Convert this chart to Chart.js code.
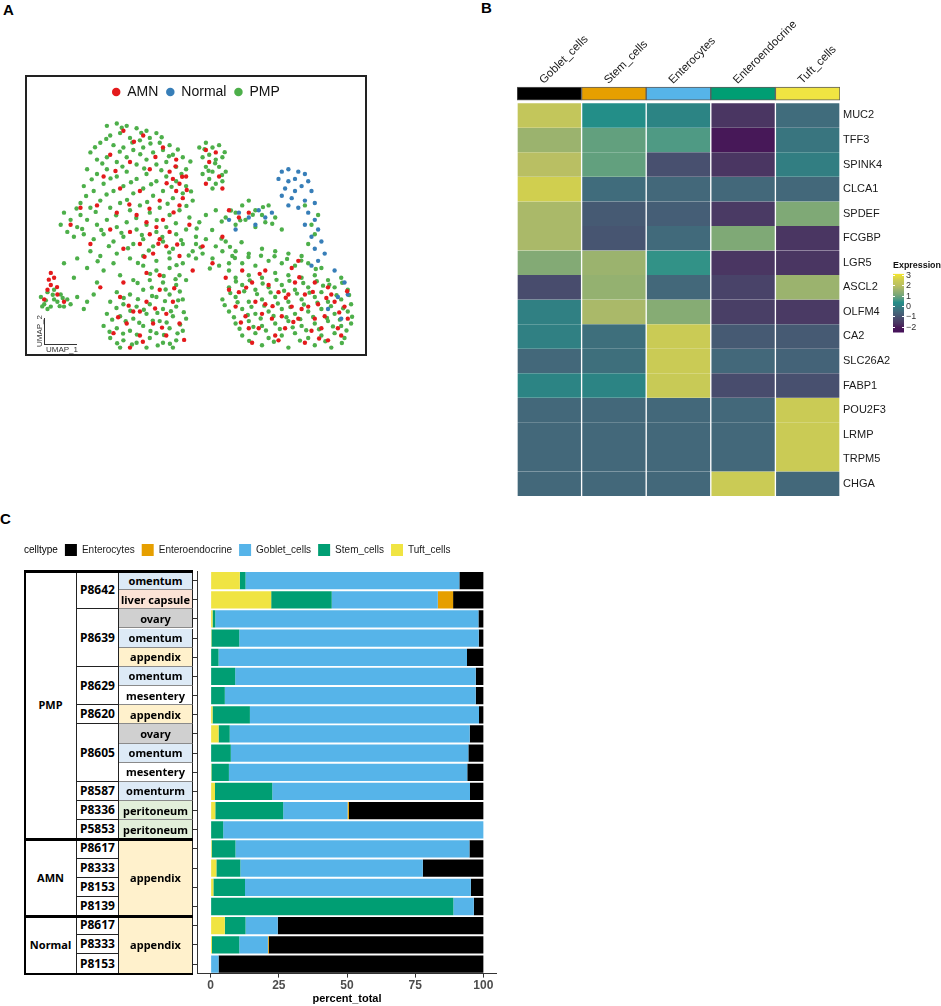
<!DOCTYPE html>
<html>
<head>
<meta charset="utf-8">
<script src="https://cdn.jsdelivr.net/npm/chart.js@4.4.1/dist/chart.umd.min.js"></script>
<style>
  html, body { margin: 0; padding: 0; background: #fff; }
  body { width: 941px; height: 1006px; position: relative; overflow: hidden; font-family: "Liberation Sans", Arial, sans-serif; }
  .tag { position: absolute; font: bold 15px/1 "Liberation Sans", Arial, sans-serif; color: #000; }
  .wrap { position: absolute; }
  #umapBox { position: absolute; left: 25px; top: 75px; width: 342px; height: 281px; border: 2px solid #222; box-sizing: border-box; }
  #umapAxes { position: absolute; left: 44px; top: 318px; width: 32px; height: 26px; border-left: 1px solid #333; border-bottom: 1px solid #333; }
  .umapLab { position: absolute; font-size: 8px; line-height: 1; color: #333; white-space: nowrap; }
  .cell { position: absolute; box-sizing: border-box; border-right: 1px solid #222; border-bottom: 1px solid #222;
          display: flex; align-items: center; justify-content: center; font-family: "Noto Sans", sans-serif;
          font-weight: 700; color: #000; white-space: nowrap; line-height: 1; }
  .rule { position: absolute; background: #000; }
</style>
</head>
<body>
<div class="tag" style="left:3px;top:2px">A</div>
<div class="tag" style="left:481px;top:0px">B</div>
<div class="tag" style="left:0px;top:511px">C</div>

<div id="umapBox"><div class="wrap" style="left:0;top:0;width:338px;height:277px"><canvas id="umapChart"></canvas></div></div>
<div id="umapAxes"></div>
<div class="umapLab" style="left:24px;top:327px;transform:rotate(-90deg)">UMAP_2</div>
<div class="umapLab" style="left:46px;top:346px">UMAP_1</div>

<div class="wrap" style="left:480px;top:0;width:461px;height:510px"><canvas id="heatChart"></canvas></div>
<div class="wrap" style="left:885px;top:258px;width:56px;height:82px"><canvas id="exprBar"></canvas></div>

<div class="wrap" style="left:0;top:537px;width:497px;height:470px"><canvas id="pctChart"></canvas></div>
<div id="tableLayer"></div>

<script>
Chart.defaults.font.family = '"Liberation Sans", Arial, sans-serif';

// ---------- A: UMAP embedding (0-100 units) ----------
const umapPMP = [
  [23,93],[26,94],[29,93],[32,92],[35,91],[38,90],[24,89],[27,90],[30,88],[33,87],[36,88],[39,86],[42,85],[21,86],
  [25,85],[28,84],[31,83],[34,84],[37,82],[40,83],[43,81],[46,80],[18,82],[20,79],[23,80],[26,78],[29,80],[32,77],
  [35,79],[38,77],[41,78],[44,76],[47,75],[17,75],[20,73],[23,75],[26,72],[29,74],[32,71],[35,73],[38,70],[41,72],
  [44,70],[47,68],[16,68],[19,66],[22,69],[25,66],[28,68],[31,65],[34,67],[37,64],[40,66],[43,63],[46,65],[49,62],
  [15,61],[18,59],[21,62],[24,59],[27,61],[30,58],[33,60],[36,57],[39,59],[42,56],[45,58],[48,55],[51,53],
  [10,57],[12,54],[14,51],[11,49],[13,47],[15,56],[9,52],[16,48],
  [17,54],[20,52],[23,54],[26,51],[29,53],[32,50],[35,52],[38,49],[41,51],[44,48],[47,50],[50,47],[19,46],[22,48],
  [25,45],[28,47],[31,44],[34,46],[37,43],[40,45],[43,42],[46,44],[49,41],[18,41],[21,39],[26,40],[30,38],[34,39],
  [38,37],[42,38],[46,36],[50,38],
  [27.5,92.2],[33.4,90.1],[39.6,88.3],[22.8,87.6],[30.7,86.1],[36.2,85.7],[44.5,83.2],[19.4,84.1],[26.9,82.3],
  [33.1,81.2],[41.8,80.4],[48.3,78.2],[21.6,77.4],[27.7,76.1],[34.3,75.3],[39.5,74.6],[45.6,73.1],[18.4,70.8],
  [24.1,71.2],[30.3,69.6],[36.4,68.8],[42.6,67.7],[48.5,65.8],[16.7,63.9],[22.9,64.5],[29.1,62.3],[35.2,61.4],
  [41.4,60.7],[47.1,59.8],[13.8,58.7],[19.6,57.3],[25.8,55.9],[31.9,54.8],[38.1,53.9],[43.9,52.6],[50.2,50.4],
  [15.5,50.2],[21.3,49.8],[27.4,48.6],[33.6,47.7],[39.8,46.9],[45.5,45.6],[23.6,43.1],[29.4,42.2],[35.7,41.3],
  [41.9,40.5],[47.8,39.2],[20.2,36.8],[32.4,36.1],[44.1,35.2],
  [51,84],[53,86],[55,84],[57,85],[52,80],[54,81],[56,79],[58,80],[53,76],[55,74],[57,76],[59,74],[54,71],[56,69],
  [58,70],[55,67],[52,73],[52.6,83.3],[55.8,77.5],[57.9,72.6],[53.8,74.4],[58.7,82.1],
  [53,56],[56,58],[59,55],[62,57],[64,60],[66,62],[68,58],[70,56],[72,60],[62,52],[65,54],[68,51],[71,53],[74,55],
  [76,50],[85,52],[86,48],[84,44],[87,56],[83,60],
  [57.8,53.3],[60.6,57.9],[63.4,53.8],[67.2,56.1],[70.3,59.3],[73.1,52.4],[54.9,49.8],[57.7,46.2],[60.3,42.8],
  [63.8,44.7],[51.4,42.6],[54.2,33.8],
  [50,44],[53,46],[56,43],[59,45],[52,40],[55,38],[58,41],[61,39],[57,35],[60,36],
  [14,38],[17,34],[22,33],[27,31],[31,29],[13,30],[20,28],[25,36],[10,36],
  [3,22],[5,24],[7,21],[9,23],[4,19],[6,18],[8,20],[10,18],[11,21],[12,19],[5,17],[7,25],
  [4.5,20.6],[6.6,22.9],[8.7,18.2],[3.4,18.1],[9.6,21.6],
  [14,22],[17,20],[19,23],[16,17],
  [34,35],[38,33],[42,34],[45,31],[36,29],[40,28],[44,27],[47,29],[26,24],[30,23],[34,25],[38,22],[42,23],[46,21],
  [24,20],[28,19],[32,18],[36,19],[40,17],[44,18],[23,15],[27,14],[31,13],[35,15],[39,12],[43,14],[47,13],[22,10],
  [26,9],[30,8],[34,10],[38,7],[42,9],[46,8],[24,5],[28,4],[32,3],[36,5],[40,3],[44,4],[27,1],[35,1],[43,1],
  [36.1,31.6],[40.2,30.7],[43.8,29.4],[32.3,27.8],[36.6,25.9],[40.8,25.1],[45.1,24.3],[28.1,21.6],[32.4,21.1],
  [36.7,22.4],[40.6,20.3],[44.6,20.6],[25.9,17.4],[30.1,16.3],[34.2,16.7],[38.3,15.4],[42.4,16.1],[46.3,15.7],
  [24.6,12.6],[28.7,11.9],[32.8,11.3],[36.9,12.2],[41.1,11.4],[45.2,10.6],[23.8,7.6],[27.9,6.8],[32.1,6.4],
  [36.2,7.9],[40.3,6.2],[44.4,6.9],[26.1,2.8],[30.6,2.3],[38.4,1.9],[42.1,2.6],
  [62,41],[66,40],[70,42],[74,41],[78,40],[82,39],
  [60,33],[64,36],[68,35],[72,37],[76,36],[80,35],[84,36],[88,34],
  [62,30],[66,31],[70,30],[74,32],[78,31],[82,30],[86,31],[90,29],[94,30],
  [60,26],[64,27],[68,25],[72,26],[76,27],[80,25],[84,26],[88,24],[92,26],[96,25],
  [58,21],[62,22],[66,20],[70,21],[74,22],[78,20],[82,21],[86,22],[90,20],[94,21],[97,19],
  [60,16],[64,17],[68,15],[72,16],[76,17],[80,15],[84,16],[88,17],[92,15],[96,16],
  [62,11],[66,12],[70,10],[74,11],[78,12],[82,10],[86,11],[90,12],[94,10],[97,11],
  [64,6],[68,7],[72,5],[76,6],[80,7],[84,5],[88,6],[92,7],[95,5],
  [70,2],[78,1],[86,2],[91,1],
  [61.8,38.2],[65.9,38.6],[69.7,39.1],[73.8,38.9],[77.6,37.8],[81.9,37.1],[86.3,33.6],
  [62.1,28.4],[66.3,28.9],[70.2,27.6],[74.4,29.1],[78.3,28.7],[82.5,27.8],[86.6,28.5],[90.4,27.1],[94.3,27.9],
  [60.4,23.6],[64.6,24.4],[68.5,23.2],[72.6,23.9],[76.7,24.6],[80.6,23.4],[84.4,23.8],[88.5,26.7],[92.6,22.7],[96.4,22.8],
  [58.7,18.6],[62.6,19.8],[66.8,17.9],[70.7,18.4],[74.8,19.3],[78.6,17.8],[82.7,18.9],[86.8,19.6],[90.9,18.2],[94.6,17.3],
  [61.5,13.6],[65.7,14.5],[69.6,13.1],[73.5,14.1],[77.4,13.6],[81.6,12.8],[85.5,13.7],[89.7,13.3],[93.6,12.6],[97.3,13.8],
  [63.2,8.8],[67.4,9.6],[71.2,8.1],[75.4,8.7],[79.3,9.4],[83.4,8.2],[87.3,8.6],[91.5,9.8],[95.6,8.1],
  [66.1,3.8],[73.6,3.4],[81.5,3.9],[89.2,3.6],[94.2,2.9]
];
const umapAMN = [
  [28,91],[34,89],[40,84],[44,79],[24,81],[30,78],[36,75],[42,74],[45,69],[44,66],[46,63],[45,60],[47,72],[43,71],
  [22,72],[27,67],[33,66],[39,62],[20,60],[26,57],[32,56],[35,53],[38,51],[40,54],[36,48],[39,46],[42,49],[33,44],
  [37,40],[41,43],[30,49],[24,50],[12,52],[15,59],[18,44],[28,42],[45,39],[48,52],[53,83],[56,82],[54,78],[57,72],
  [53,69],[58,67],[60,58],[63,55],[66,57],[58,47],[55,36],[59,30],[63,24],[67,28],[71,19],[75,24],[79,18],[83,23],
  [87,19],[91,23],[95,18],[65,14],[69,9],[73,13],[77,9],[81,13],[85,8],[89,14],[93,9],[96,13],[67,3],[75,4],[83,3],
  [90,4],[71,33],[79,34],[86,28],[35,32],[39,25],[43,20],[33,16],[37,11],[41,15],[29,11],[25,7],[33,6],[41,6],
  [45,11],[30,1],[6,27],[7,30],[6,32],[5,25],[8,23],[4,21],[10,20],[21,26],[28,28],[49,33],[52,43],[81,37],
  [64,33],[68,20],[72,27],[76,14],[80,28],[84,18],[88,9],[92,20],[66,9],[74,6],[82,17],[90,26],[62,18],[70,15],
  [78,23],[86,13],[94,6],[60,25],[35,20],[31,16],[27,22],[39,31],
  [31.2,86.4],[37.7,80.1],[25.6,74.3],[41.1,69.2],[29.8,60.4],[35.9,58.6],[43.2,57.1],[38.6,44.1],[44.3,43.8],
  [34.4,38.7],[47.2,66.4],[45.8,71.9],[43.8,76.2],[65.2,25.9],[69.3,31.6],[77.2,21.7],[81.3,30.2],[85.4,24.1],
  [89.5,21.6],[93.4,15.6],[73.2,18.2],[79.5,11.6],[87.3,4.8],[63.6,11.4],[95.8,24.4],[29.6,18.4],[37.6,17.2],
  [43.4,25.6],[33.9,3.4],[39.7,9.3],[26.4,13.6],[46.4,4.2],[7.9,26.1],[5.4,29.2]
];
const umapNormal = [
  [76,74],[78,75],[81,74],[83,73],[75,71],[78,70],[80,71],[84,70],[77,67],[80,66],[82,68],[85,66],[76,64],[79,63],
  [83,62],[78,60],[81,59],[86,61],
  [84,57],[86,54],[83,52],[87,50],[85,47],[88,45],[86,42],[89,40],[87,37],[85,35],
  [60,54],[63,57],[66,55],[69,58],[71,55],[73,57],[68,52],[62,50],
  [92,33],[95,28],[93,22],[96,23],[90,17],[94,13]
];

// ---------- B: scaled expression heatmap ----------
const heatCellTypes = ['Goblet_cells', 'Stem_cells', 'Enterocytes', 'Enteroendocrine', 'Tuft_cells'];
const heatGenes = ['MUC2', 'TFF3', 'SPINK4', 'CLCA1', 'SPDEF', 'FCGBP', 'LGR5', 'ASCL2',
                   'OLFM4', 'CA2', 'SLC26A2', 'FABP1', 'POU2F3', 'LRMP', 'TRPM5', 'CHGA'];
// one row per gene, columns follow heatCellTypes
const heatValues = [
  [2.3, 0.4, 0.15, -1.6, -0.4],
  [1.6, 0.9, 0.7, -2.1, -0.2],
  [2.0, 0.9, -1.0, -1.6, 0.0],
  [2.6, -0.4, -0.5, -0.5, -0.5],
  [1.8, -0.8, -0.7, -1.5, 1.2],
  [1.8, -0.9, -0.45, 1.2, -1.6],
  [1.25, 1.6, 0.5, -1.6, -1.6],
  [-1.1, 1.5, -0.5, -1.3, 1.6],
  [0.05, 1.8, 1.3, -1.4, -1.5],
  [0.05, -0.35, 2.5, -0.8, -0.8],
  [-0.5, -0.35, 2.5, -0.5, -0.6],
  [0.15, 0.15, 2.45, -1.1, -1.0],
  [-0.5, -0.5, -0.5, -0.5, 2.5],
  [-0.5, -0.5, -0.5, -0.5, 2.5],
  [-0.5, -0.5, -0.5, -0.5, 2.5],
  [-0.5, -0.5, -0.5, 2.5, -0.5]
];
const exprTicks = [-2, -1, 0, 1, 2, 3];

// ---------- C: cell type composition per sample (percent) ----------
const sampleGroup = ['PMP','PMP','PMP','PMP','PMP','PMP','PMP','PMP','PMP','PMP','PMP','PMP','PMP','PMP',
                     'AMN','AMN','AMN','AMN','Normal','Normal','Normal'];
const patientId = ['P8642','P8642','P8639','P8639','P8639','P8629','P8629','P8620','P8605','P8605','P8605',
                   'P8587','P8336','P5853','P8617','P8333','P8153','P8139','P8617','P8333','P8153'];
const tissueSite = ['omentum','liver capsule','ovary','omentum','appendix','omentum','mesentery','appendix',
                    'ovary','omentum','mesentery','omenturm','peritoneum','peritoneum',
                    'appendix','appendix','appendix','appendix','appendix','appendix','appendix'];
const tuftPct     = [10.7, 22.2, 0.7, 0.3, 0, 0, 0, 0.7, 2.9, 0, 0.3, 1.6, 1.7, 0, 0.4, 2.1, 1.0, 0, 5.2, 0.5, 0];
const stemPct     = [2.1, 22.2, 1.0, 10.2, 2.9, 9.0, 5.2, 13.7, 4.1, 7.4, 6.4, 21.0, 24.9, 4.6, 8.7, 8.8, 11.6, 89.0, 7.6, 10.0, 0];
const gobletPct   = [78.4, 38.9, 96.5, 87.8, 91.1, 88.2, 92.0, 84.0, 88.0, 87.1, 87.4, 72.5, 23.6, 95.4, 85.8, 66.9, 82.8, 7.5, 11.8, 10.5, 2.9];
const endocrinePct = [0, 5.6, 0, 0, 0, 0, 0, 0, 0, 0, 0, 0, 0.5, 0, 0, 0, 0, 0, 0, 0.3, 0];
const enterocytePct = [8.8, 11.1, 1.8, 1.7, 6.0, 2.8, 2.8, 1.6, 5.0, 5.5, 5.9, 4.9, 49.3, 0, 5.1, 22.2, 4.6, 3.5, 75.4, 78.7, 97.1];
const pctTicks = [0, 25, 50, 75, 100];

// ---------- styles ----------
const groupColors = { AMN: '#E41A1C', Normal: '#377EB8', PMP: '#4DAF4A' };
const annotColors = ['#000000', '#E69F00', '#56B4E9', '#009E73', '#F0E442'];
const siteFill = { omentum: '#DDEAF6', omenturm: '#DDEAF6', 'liver capsule': '#FBE3D6', ovary: '#D0D0D0',
                   appendix: '#FFF1CC', mesentery: '#FFFFFF', peritoneum: '#E2EFDA' };
// muted viridis as it appears in the figure
const exprStops = [
  [-2.5, '#44105A'], [-2.0, '#481A57'], [-1.6, '#4A3662'], [-1.0, '#48506F'], [-0.5, '#43687A'],
  [0.0, '#327E82'], [0.4, '#238E88'], [0.7, '#4F9A84'], [1.2, '#7FA976'], [1.6, '#9BB36E'],
  [2.0, '#B9BF63'], [2.5, '#CACB55'], [3.2, '#F5E52C']
];

function hexRgb(h) { return [1, 3, 5].map(i => parseInt(h.slice(i, i + 2), 16)); }
function exprColor(v) {
  if (v <= exprStops[0][0]) return exprStops[0][1];
  for (let i = 1; i < exprStops.length; i++) {
    if (v <= exprStops[i][0]) {
      const [v0, c0] = exprStops[i - 1], [v1, c1] = exprStops[i];
      const t = (v - v0) / (v1 - v0), a = hexRgb(c0), b = hexRgb(c1);
      return 'rgb(' + a.map((x, k) => Math.round(x + (b[k] - x) * t)).join(',') + ')';
    }
  }
  return exprStops[exprStops.length - 1][1];
}
const toXY = arr => arr.map(p => ({ x: p[0], y: p[1] }));

// ---------- A ----------
new Chart(document.getElementById('umapChart'), {
  type: 'scatter',
  data: {
    datasets: [
      { label: 'AMN', data: toXY(umapAMN), backgroundColor: groupColors.AMN, borderWidth: 0, pointRadius: 2.2 },
      { label: 'Normal', data: toXY(umapNormal), backgroundColor: groupColors.Normal, borderWidth: 0, pointRadius: 2.2 },
      { label: 'PMP', data: toXY(umapPMP), backgroundColor: groupColors.PMP, borderWidth: 0, pointRadius: 2.2 }
    ]
  },
  options: {
    animation: false,
    responsive: true,
    maintainAspectRatio: false,
    plugins: {
      legend: {
        labels: { usePointStyle: true, pointStyle: 'circle', boxWidth: 8, boxHeight: 6, padding: 8,
                  color: '#111', font: { size: 14 } }
      },
      tooltip: { enabled: false }
    },
    scales: {
      x: { display: false, min: 0, max: 100 },
      y: { display: false, min: 0, max: 100 }
    }
  }
});

// ---------- B ----------
const heatDatasets = [{
  label: 'celltype',
  data: heatCellTypes.map(() => [-0.66, -0.12]),
  backgroundColor: annotColors,
  borderColor: '#5c5c5c',
  borderWidth: 1,
  borderSkipped: false
}].concat(heatGenes.map((g, i) => ({
  label: g,
  data: heatCellTypes.map(() => [i, i + 1]),
  backgroundColor: heatValues[i].map(exprColor),
  borderColor: '#ffffff',
  borderWidth: { left: 1, right: 1, top: 0, bottom: 0 },
  borderSkipped: false
})));

new Chart(document.getElementById('heatChart'), {
  type: 'bar',
  data: { labels: heatCellTypes, datasets: heatDatasets },
  options: {
    animation: false,
    responsive: true,
    maintainAspectRatio: false,
    layout: { padding: { left: 37, bottom: 14 } },
    datasets: { bar: { grouped: false, barPercentage: 1, categoryPercentage: 1 } },
    plugins: { legend: { display: false }, tooltip: { enabled: false } },
    scales: {
      x: {
        position: 'top',
        grid: { display: false, drawTicks: false },
        border: { display: false },
        ticks: { autoSkip: false, minRotation: 45, maxRotation: 45, padding: -1, labelOffset: 2,
                 color: '#1a1a1a', font: { size: 11.5 } },
        afterFit: s => { s.height = 86; }
      },
      y: {
        position: 'right',
        reverse: true,
        min: -0.7,
        max: 16,
        grid: { display: false, drawTicks: false },
        border: { display: false },
        afterBuildTicks: s => { s.ticks = heatGenes.map((g, i) => ({ value: i + 0.5 })); },
        ticks: { autoSkip: false, padding: 3, color: '#1a1a1a', font: { size: 11 },
                 callback: (v, i) => heatGenes[i] },
        afterFit: s => { s.width = 101; }
      }
    }
  }
});

new Chart(document.getElementById('exprBar'), {
  type: 'bar',
  data: {
    labels: ['Expression'],
    datasets: [{
      data: [[-2.5, 3.15]],
      borderWidth: 0,
      barPercentage: 1,
      categoryPercentage: 1,
      backgroundColor: function (context) {
        const chart = context.chart;
        if (!chart.chartArea) return null;
        const ys = chart.scales.y;
        const y0 = ys.getPixelForValue(-2.5), y1 = ys.getPixelForValue(3.15);
        const g = chart.ctx.createLinearGradient(0, y0, 0, y1);
        exprStops.forEach(([v, c]) => {
          const f = (ys.getPixelForValue(v) - y0) / (y1 - y0);
          g.addColorStop(Math.min(1, Math.max(0, f)), c);
        });
        return g;
      }
    }]
  },
  options: {
    animation: false,
    responsive: true,
    maintainAspectRatio: false,
    layout: { padding: { left: 8 } },
    plugins: {
      legend: { display: false },
      tooltip: { enabled: false },
      title: { display: true, text: 'Expression', align: 'start', color: '#111',
               font: { size: 9, weight: 'bold' }, padding: { top: 2, bottom: 3 } }
    },
    scales: {
      x: { display: false },
      y: {
        position: 'right',
        min: -2.5,
        max: 3.15,
        grid: { color: '#ffffff', z: 1, drawTicks: false },
        border: { display: false, dash: [2, 7] },
        afterBuildTicks: s => { s.ticks = exprTicks.map(v => ({ value: v })); },
        ticks: { autoSkip: false, padding: 2, color: '#333', font: { size: 9 },
                 callback: v => (v < 0 ? '\u2212' + Math.abs(v) : String(v)) },
        afterFit: s => { s.width = 37; }
      }
    }
  }
});

// ---------- C ----------
const rowCount = patientId.length;
const rowLabels = patientId.map((p, i) => sampleGroup[i] + ' ' + p + ' ' + tissueSite[i]);

function spansOf(keyFn) {
  const out = [];
  for (let i = 0; i < rowCount; i++) {
    const k = keyFn(i);
    const last = out[out.length - 1];
    if (last && last.key === k) last.count++;
    else out.push({ key: k, start: i, count: 1 });
  }
  return out;
}

function buildTable(chart) {
  const layer = document.getElementById('tableLayer');
  layer.innerHTML = '';
  const area = chart.chartArea;
  const top = chart.canvas.getBoundingClientRect().top + area.top;
  const rowH = (area.bottom - area.top) / rowCount;
  const cols = [{ x: 25, w: 52 }, { x: 77, w: 42 }, { x: 119, w: 74 }];

  function addCell(col, span, text, fill, size, lineColor) {
    const d = document.createElement('div');
    d.className = 'cell';
    d.style.left = col.x + 'px';
    d.style.width = col.w + 'px';
    d.style.top = (top + span.start * rowH) + 'px';
    d.style.height = (span.count * rowH) + 'px';
    d.style.background = fill;
    d.style.fontSize = size + 'px';
    if (lineColor) d.style.borderBottomColor = lineColor;
    d.textContent = text;
    layer.appendChild(d);
  }
  function addRule(x, y, w, h) {
    const r = document.createElement('div');
    r.className = 'rule';
    r.style.left = x + 'px'; r.style.top = y + 'px';
    r.style.width = w + 'px'; r.style.height = h + 'px';
    layer.appendChild(r);
  }

  spansOf(i => sampleGroup[i]).forEach(s => addCell(cols[0], s, sampleGroup[s.start], '#fff', 11));
  spansOf(i => sampleGroup[i] + '|' + patientId[i]).forEach(s => addCell(cols[1], s, patientId[s.start], '#fff', 12));
  spansOf(i => sampleGroup[i] === 'PMP' ? 'r' + i : sampleGroup[i] + '|' + tissueSite[i])
    .forEach(s => addCell(cols[2], s, tissueSite[s.start], siteFill[tissueSite[s.start]], 11, '#8a8a8a'));

  // frame and group dividers
  addRule(24, top, 1.5, area.bottom - area.top + 1);
  addRule(24, top + rowCount * rowH - 0.5, 169, 1.5);
  spansOf(i => sampleGroup[i]).forEach(s => addRule(24, top + s.start * rowH - 1.5, 169, 3));
}

const legendGap = {
  id: 'legendGap',
  beforeInit(chart) {
    const fit = chart.legend.fit;
    chart.legend.fit = function () { fit.call(this); this.height += 5; };
  }
};
const tableSync = { id: 'tableSync', afterLayout(chart) { buildTable(chart); } };

new Chart(document.getElementById('pctChart'), {
  type: 'bar',
  data: {
    labels: rowLabels,
    datasets: [
      { label: 'Tuft_cells', data: tuftPct, backgroundColor: '#F0E442' },
      { label: 'Stem_cells', data: stemPct, backgroundColor: '#009E73' },
      { label: 'Goblet_cells', data: gobletPct, backgroundColor: '#56B4E9' },
      { label: 'Enteroendocrine', data: endocrinePct, backgroundColor: '#E69F00' },
      { label: 'Enterocytes', data: enterocytePct, backgroundColor: '#000000' }
    ]
  },
  plugins: [legendGap, tableSync],
  options: {
    indexAxis: 'y',
    animation: false,
    responsive: true,
    maintainAspectRatio: false,
    datasets: { bar: { barPercentage: 0.9, categoryPercentage: 1, borderWidth: 0 } },
    plugins: {
      tooltip: { enabled: false },
      legend: {
        position: 'top',
        align: 'start',
        labels: {
          boxWidth: 12, boxHeight: 12, padding: 7, color: '#1a1a1a', font: { size: 10 },
          generateLabels(chart) {
            const items = Chart.defaults.plugins.legend.labels.generateLabels(chart).reverse();
            items.unshift({ text: 'celltype', fillStyle: 'rgba(0,0,0,0)', strokeStyle: 'rgba(0,0,0,0)',
                            lineWidth: 0, hidden: false, datasetIndex: -1 });
            return items;
          }
        }
      }
    },
    scales: {
      x: {
        stacked: true,
        min: -5,
        max: 105,
        afterBuildTicks: s => { s.ticks = pctTicks.map(v => ({ value: v })); },
        grid: { drawOnChartArea: false, drawTicks: true, tickLength: 4, color: '#333' },
        border: { display: true, color: '#333' },
        ticks: { padding: 1, color: '#4d4d4d', font: { size: 12, weight: 'bold', lineHeight: 1.1 } },
        title: { display: true, text: 'percent_total', color: '#000', padding: { top: 0, bottom: 1 },
                 font: { size: 11, weight: 'bold', lineHeight: 1.2 } }
      },
      y: {
        stacked: true,
        ticks: { display: false },
        grid: { drawOnChartArea: false, drawTicks: true, tickLength: 4, color: '#333', offset: false },
        border: { display: true, color: '#333' },
        afterFit: s => { s.width = 197; }
      }
    }
  }
});
</script>
</body>
</html>
